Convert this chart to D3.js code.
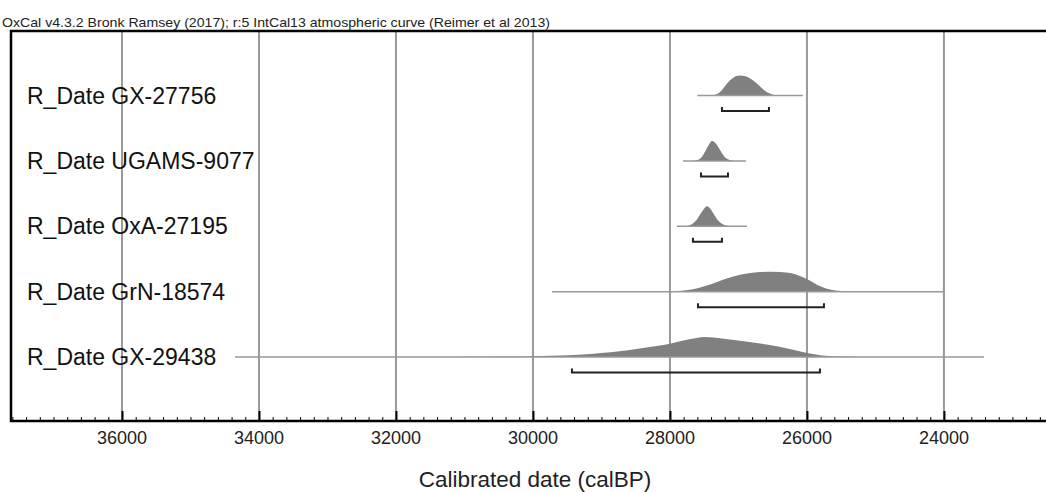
<!DOCTYPE html>
<html>
<head>
<meta charset="utf-8">
<script src="https://cdn.jsdelivr.net/npm/d3@7/dist/d3.min.js"></script>
<style>
  html, body { margin: 0; padding: 0; background: #fff; }
  svg { display: block; }
  text { font-family: "Liberation Sans", Arial, sans-serif; }
</style>
</head>
<body>
<svg id="chart" width="1046" height="492"></svg>
<script>
// ---------- data ----------
const titleText = "OxCal v4.3.2 Bronk Ramsey (2017); r:5 IntCal13 atmospheric curve (Reimer et al 2013)";
const axisTitle = "Calibrated date (calBP)";
const labels = ["R_Date GX-27756", "R_Date UGAMS-9077", "R_Date OxA-27195", "R_Date GrN-18574", "R_Date GX-29438"];
const tickValues = [36000, 34000, 32000, 30000, 28000, 26000, 24000];

// probability distributions: [calBP, relative density]
const distGX27756 = [[27600,0],[27420,0],[27340,0.04],[27280,0.14],[27220,0.36],[27160,0.62],[27100,0.82],[27040,0.96],[26980,1],[26910,0.97],[26840,0.88],[26780,0.74],[26700,0.5],[26630,0.28],[26560,0.12],[26490,0.04],[26400,0.01],[26300,0],[26060,0]];
const distUGAMS9077 = [[27810,0],[27680,0],[27610,0.03],[27550,0.14],[27490,0.45],[27430,0.82],[27387,1],[27343,0.92],[27300,0.72],[27260,0.5],[27220,0.28],[27180,0.13],[27130,0.05],[27070,0.01],[27000,0],[26891,0]];
const distOxA27195 = [[27898,0],[27790,0],[27720,0.04],[27660,0.15],[27606,0.34],[27533,0.72],[27460,1],[27410,0.88],[27370,0.66],[27300,0.3],[27240,0.13],[27190,0.05],[27130,0.01],[27050,0],[26876,0]];
const distGrN18574 = [[29723,0],[28400,0],[28100,0.01],[27956,0.03],[27708,0.1],[27460,0.31],[27226,0.6],[26978,0.84],[26730,0.97],[26496,1],[26300,0.96],[26150,0.85],[26000,0.63],[25854,0.35],[25708,0.14],[25540,0.04],[25350,0.01],[25100,0],[23985,0]];
const distGX29438 = [[34350,0],[31600,0],[30934,0.01],[30000,0.04],[29489,0.09],[28832,0.25],[28394,0.45],[28000,0.66],[27737,0.87],[27489,1],[27241,0.93],[26949,0.8],[26584,0.62],[26219,0.37],[26000,0.2],[25781,0.08],[25489,0.02],[25124,0],[23416,0]];
const distributions = [distGX27756, distUGAMS9077, distOxA27195, distGrN18574, distGX29438];

// 95.4% ranges: [from, to] calBP
const ranges = [[27241,26555],[27547,27153],[27664,27241],[27591,25752],[29431,25810]];

// ---------- layout ----------
const svg = d3.select("#chart");
const plot = { left: 10, right: 1046, top: 31, bottom: 421 };

const x = d3.scaleLinear().domain([37635, 22510]).range([plot.left, plot.right]);
const yRow = d3.scalePoint().domain(labels).range([95.5, 357]);
const hScale = d3.scaleLinear().domain([0, 1]).range([0, 20]);

// title
svg.append("text")
  .attr("x", 2).attr("y", 26.5)
  .attr("font-size", 13)
  .attr("fill", "#222")
  .attr("textLength", 548).attr("lengthAdjust", "spacingAndGlyphs")
  .text(titleText);

// gridlines
svg.append("g").selectAll("line").data(tickValues).join("line")
  .attr("x1", d => x(d)).attr("x2", d => x(d))
  .attr("y1", plot.top).attr("y2", plot.bottom)
  .attr("stroke", "#999").attr("stroke-width", 2);

// rows
const area = d3.area()
  .x(d => x(d[0]))
  .curve(d3.curveMonotoneX);

labels.forEach((lab, i) => {
  const y0 = yRow(lab);
  const dist = distributions[i];
  const g = svg.append("g");
  g.append("path")
    .datum(dist)
    .attr("d", area.y0(y0).y1(d => y0 - hScale(d[1])))
    .attr("fill", "#808080");
  const ext = d3.extent(dist, d => d[0]);
  g.append("line")
    .attr("x1", x(ext[1])).attr("x2", x(ext[0]))
    .attr("y1", y0).attr("y2", y0)
    .attr("stroke", "#999").attr("stroke-width", 1.5);
  const yb = y0 + 15.5;
  const r = ranges[i];
  g.append("path")
    .attr("d", `M${x(r[0])},${yb - 4}V${yb}H${x(r[1])}V${yb - 4}`)
    .attr("fill", "none").attr("stroke", "#222").attr("stroke-width", 2);
  svg.append("text")
    .attr("x", 27).attr("y", y0 + 8)
    .attr("font-size", 23)
    .attr("fill", "#111")
    .text(lab);
});

// axis
const minorTicks = d3.range(37600, 22400, -200);
const axis = d3.axisBottom(x).tickValues(minorTicks).tickSize(0).tickFormat("");
const axG = svg.append("g").attr("transform", `translate(0,${plot.bottom})`).call(axis);
axG.select(".domain").remove();
axG.selectAll(".tick line").remove();
axG.selectAll(".tick").append("line")
  .attr("y1", 0).attr("y2", d => (d % 2000 === 0) ? -10 : -4)
  .attr("stroke", "#000")
  .attr("stroke-width", d => (d % 2000 === 0) ? 2 : 1);

svg.append("g").selectAll("text").data(tickValues).join("text")
  .attr("x", d => x(d)).attr("y", 444)
  .attr("text-anchor", "middle")
  .attr("font-size", 18)
  .attr("fill", "#222")
  .text(d => d);

// frame
svg.append("path")
  .attr("d", `M${plot.right},${plot.top}H${plot.left + 1}V${plot.bottom}H${plot.right}`)
  .attr("fill", "none").attr("stroke", "#000").attr("stroke-width", 2.5);

// axis title
svg.append("text")
  .attr("x", 535).attr("y", 486.5)
  .attr("text-anchor", "middle")
  .attr("font-size", 22.5)
  .attr("fill", "#222")
  .text(axisTitle);
</script>
</body>
</html>
